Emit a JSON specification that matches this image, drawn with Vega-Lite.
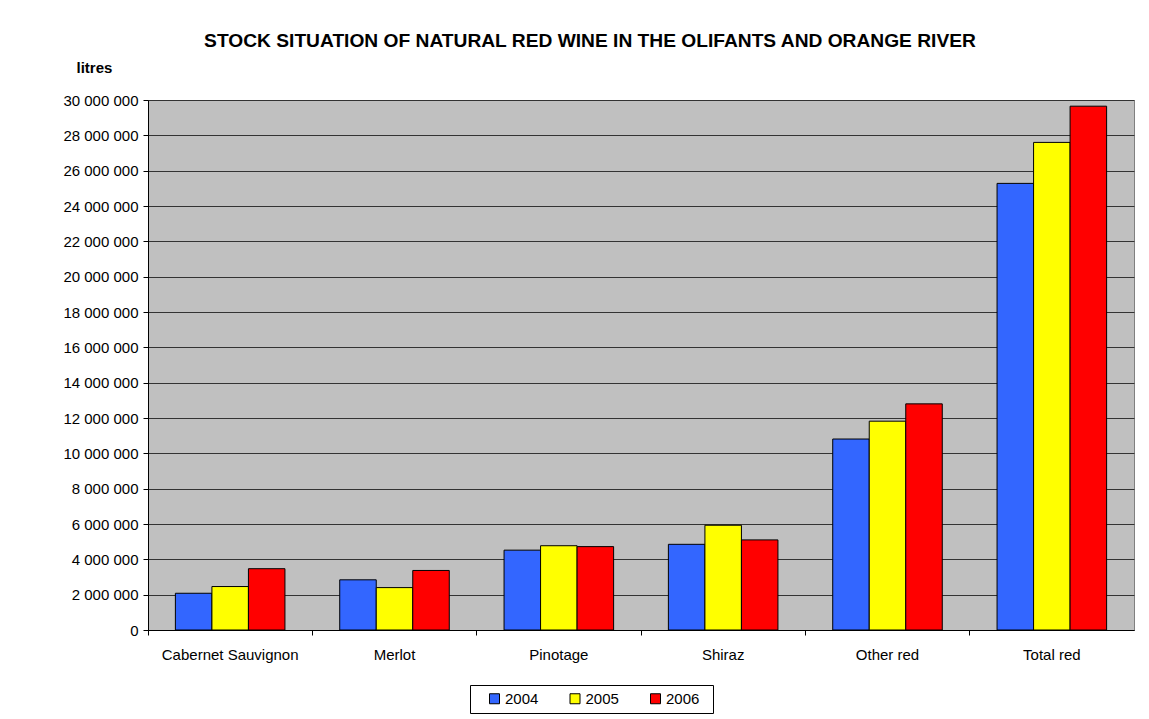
{
  "$schema": "https://vega.github.io/schema/vega-lite/v6.json",
  "width": 986,
  "height": 530,
  "autosize": {"type": "none"},
  "padding": {"left": 148, "top": 100, "right": 15, "bottom": 89},
  "background": "white",
  "title": {
    "text": "STOCK SITUATION OF NATURAL RED WINE IN THE OLIFANTS AND ORANGE RIVER",
    "font": "Liberation Sans",
    "fontSize": 19.2,
    "fontWeight": "bold",
    "color": "black",
    "anchor": "middle",
    "frame": "group",
    "dx": -51,
    "offset": 9
  },
  "data": {
    "values": [
      {"category": "Cabernet Sauvignon", "year": "2004", "litres": 2080000},
      {"category": "Cabernet Sauvignon", "year": "2005", "litres": 2460000},
      {"category": "Cabernet Sauvignon", "year": "2006", "litres": 3470000},
      {"category": "Merlot", "year": "2004", "litres": 2840000},
      {"category": "Merlot", "year": "2005", "litres": 2400000},
      {"category": "Merlot", "year": "2006", "litres": 3370000},
      {"category": "Pinotage", "year": "2004", "litres": 4520000},
      {"category": "Pinotage", "year": "2005", "litres": 4770000},
      {"category": "Pinotage", "year": "2006", "litres": 4720000},
      {"category": "Shiraz", "year": "2004", "litres": 4850000},
      {"category": "Shiraz", "year": "2005", "litres": 5930000},
      {"category": "Shiraz", "year": "2006", "litres": 5100000},
      {"category": "Other red", "year": "2004", "litres": 10810000},
      {"category": "Other red", "year": "2005", "litres": 11820000},
      {"category": "Other red", "year": "2006", "litres": 12800000},
      {"category": "Total red", "year": "2004", "litres": 25280000},
      {"category": "Total red", "year": "2005", "litres": 27600000},
      {"category": "Total red", "year": "2006", "litres": 29650000}
    ]
  },
  "mark": {"type": "bar", "stroke": "black", "strokeWidth": 1},
  "encoding": {
    "x": {
      "field": "category",
      "type": "nominal",
      "sort": null,
      "scale": {"paddingInner": 0, "paddingOuter": 0},
      "axis": {
        "title": null,
        "labelAngle": 0,
        "bandPosition": 0,
        "tickSize": 5,
        "tickColor": "black",
        "domainColor": "black",
        "labelPadding": 12,
        "labelFont": "Liberation Sans",
        "labelFontSize": 15,
        "labelColor": "black",
        "grid": false
      }
    },
    "xOffset": {
      "field": "year",
      "type": "nominal",
      "scale": {"paddingInner": 0, "paddingOuter": 0.75}
    },
    "y": {
      "field": "litres",
      "type": "quantitative",
      "scale": {"domain": [0, 30000000], "nice": false},
      "axis": {
        "values": [0, 2000000, 4000000, 6000000, 8000000, 10000000, 12000000, 14000000, 16000000, 18000000, 20000000, 22000000, 24000000, 26000000, 28000000, 30000000],
        "format": ",d",
        "title": "litres",
        "titleAngle": 0,
        "titleAlign": "left",
        "titleBaseline": "alphabetic",
        "titleX": -72,
        "titleY": -28,
        "titleFont": "Liberation Sans",
        "titleFontSize": 15,
        "titleFontWeight": "bold",
        "titleColor": "black",
        "labelFont": "Liberation Sans",
        "labelFontSize": 15,
        "labelColor": "black",
        "labelPadding": 5,
        "tickSize": 5,
        "tickColor": "black",
        "domainColor": "black",
        "grid": true,
        "gridColor": "#333333",
        "gridWidth": 1,
        "gridOpacity": 1
      }
    },
    "color": {
      "field": "year",
      "type": "nominal",
      "scale": {"domain": ["2004", "2005", "2006"], "range": ["#3366FF", "#FFFF00", "#FF0000"]},
      "legend": {
        "title": " ",
        "titleOrient": "right",
        "titlePadding": 8,
        "titleFontSize": 15,
        "titleFont": "Liberation Sans",
        "orient": "none",
        "legendX": 322,
        "legendY": 585,
        "direction": "horizontal",
        "columns": 3,
        "columnPadding": 17.5,
        "symbolType": "square",
        "symbolSize": 100,
        "symbolStrokeColor": "black",
        "symbolStrokeWidth": 1,
        "symbolOpacity": 1,
        "labelFont": "Liberation Sans",
        "labelFontSize": 15,
        "labelColor": "black",
        "labelOffset": 3,
        "padding": 6,
        "strokeColor": "black",
        "fillColor": "white",
        "symbolOffset": 11
      }
    }
  },
  "config": {
    "locale": {"number": {"decimal": ".", "thousands": " ", "grouping": [3], "currency": ["", ""]}},
    "view": {"fill": "#C0C0C0", "stroke": "#808080", "strokeWidth": 1},
    "axis": {"domainWidth": 1, "tickWidth": 1}
  }
}
